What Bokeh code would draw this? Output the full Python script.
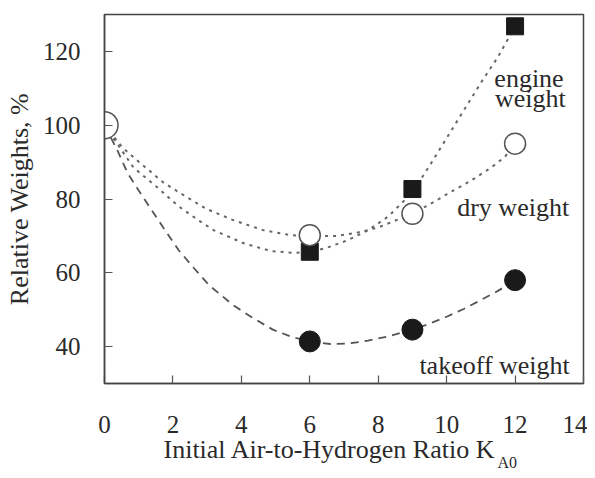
from bokeh.plotting import figure
from bokeh.models import Label, FixedTicker, Title
from bokeh.embed import file_html
from bokeh.resources import INLINE

# --- data ---
x_start = [0]
y_start = [100]

x_pts = [6, 9, 12]
takeoff = [41.4, 44.6, 58.0]
dry = [70.2, 76.0, 95.0]
engine = [65.7, 82.7, 126.8]

# fitted curves
takeoff_cx = [0, 0.38, 0.67, 1.0, 1.35, 1.73, 2.17, 2.61, 3.05, 3.75, 4.33, 4.92, 5.45, 6.0,
              6.6, 7.1, 7.7, 8.3, 9.0, 9.5, 10.0, 10.5, 11.0, 11.5, 12.0]
takeoff_cy = [100, 93.1, 87.1, 82.3, 77.4, 72.1, 66.1, 61.3, 56.7, 51.3, 47.8, 44.6, 42.7, 41.4,
              40.7, 40.8, 41.6, 42.8, 44.6, 46.2, 48.1, 50.2, 52.6, 55.1, 58.0]

dry_cx = [0, 0.53, 1.14, 1.73, 2.37, 2.96, 3.78, 4.66, 5.45, 6.0, 6.8, 7.4, 8.0, 8.46, 9.0,
          9.55, 10.1, 10.7, 11.3, 11.7, 12.0]
dry_cy = [100, 93.9, 89.0, 84.4, 80.7, 77.4, 74.2, 71.5, 70.2, 69.9, 70.0, 70.9, 72.3, 74.0, 76.0,
          78.8, 81.8, 84.9, 88.5, 91.4, 95.0]

engine_cx = [0, 0.85, 1.55, 2.14, 2.75, 3.2, 4.07, 4.86, 5.5, 6.0, 6.5, 7.1, 7.7, 8.3, 9.0,
             9.5, 10.0, 10.5, 11.0, 11.5, 12.0]
engine_cy = [100, 88.5, 83.1, 78.2, 74.2, 71.5, 68.0, 65.9, 65.4, 65.6, 66.8, 68.8, 71.5, 75.3, 81.8,
             89.0, 96.5, 104.0, 111.5, 118.5, 126.8]

x_ticks = [0, 2, 4, 6, 8, 10, 12, 14]
y_ticks = [40, 60, 80, 100, 120]

x_title = "Initial Air-to-Hydrogen Ratio K"
x_title_sub = "A0"

FONT = "Liberation Serif"
TXT = "#2a2a2a"
LINE = "#555555"

p = figure(width=587, height=470, x_range=(0, 14), y_range=(30, 130),
           output_backend="svg", toolbar_location=None,
           min_border_left=104, min_border_right=4, min_border_top=14, min_border_bottom=87)

p.xgrid.visible = False
p.ygrid.visible = False
p.background_fill_color = "white"
p.border_fill_color = "white"
p.outline_line_color = "#444444"
p.outline_line_width = 1.5

for ax in (p.xaxis[0], p.yaxis[0]):
    ax.axis_line_color = "#444444"
    ax.axis_line_width = 1.5
    ax.major_tick_in = 8
    ax.major_tick_out = 0
    ax.major_tick_line_color = "#555555"
    ax.major_tick_line_width = 1.2
    ax.minor_tick_line_color = None
    ax.major_label_text_font = FONT
    ax.major_label_text_font_size = "25px"
    ax.major_label_text_color = TXT

p.xaxis.ticker = FixedTicker(ticks=x_ticks)
p.yaxis.ticker = FixedTicker(ticks=y_ticks)
p.xaxis.major_label_standoff = 32
p.yaxis.major_label_standoff = 24

p.yaxis.axis_label = "Relative Weights, %"
p.yaxis.axis_label_text_font = FONT
p.yaxis.axis_label_text_font_size = "26px"
p.yaxis.axis_label_text_font_style = "normal"
p.yaxis.axis_label_text_color = TXT
p.yaxis.axis_label_standoff = 6

# x-axis title with subscript, as two titles below the axis
p.add_layout(Title(text=x_title, align="left", offset=59, standoff=-6,
                   text_font=FONT, text_font_size="26px", text_font_style="normal",
                   text_color=TXT), "below")
p.add_layout(Title(text=x_title_sub, align="left", offset=393, standoff=-21,
                   text_font=FONT, text_font_size="16px", text_font_style="normal",
                   text_color=TXT), "below")

# curves
p.line(takeoff_cx, takeoff_cy, line_color=LINE, line_width=1.8, line_dash="8 6")
p.line(dry_cx, dry_cy, line_color="#666666", line_width=2, line_dash="3 5")
p.line(engine_cx, engine_cy, line_color="#666666", line_width=2, line_dash="3 5")

# markers
p.scatter(x_pts, takeoff, marker="circle", size=21, fill_color="#1a1a1a", line_color="#1a1a1a")
p.scatter(x_pts, engine, marker="square", size=17, fill_color="#1a1a1a", line_color="#1a1a1a")
p.scatter(x_pts, dry, marker="circle", size=21, fill_color="white", line_color="#555555", line_width=1.5)
p.scatter(x_start, y_start, marker="circle", size=27, fill_color="white", line_color="#555555", line_width=1.5)

# series labels
def lab(x, y, t, align="right", size="26px"):
    p.add_layout(Label(x=x, y=y, text=t, text_font=FONT, text_font_size=size,
                       text_color=TXT, text_align=align, text_baseline="alphabetic"))

lab(13.42, 112.7, "engine")
lab(13.48, 107.2, "weight")
lab(13.58, 77.7, "dry weight")
lab(13.6, 34.9, "takeoff weight")

open("out.html", "w").write(file_html(p, INLINE))
